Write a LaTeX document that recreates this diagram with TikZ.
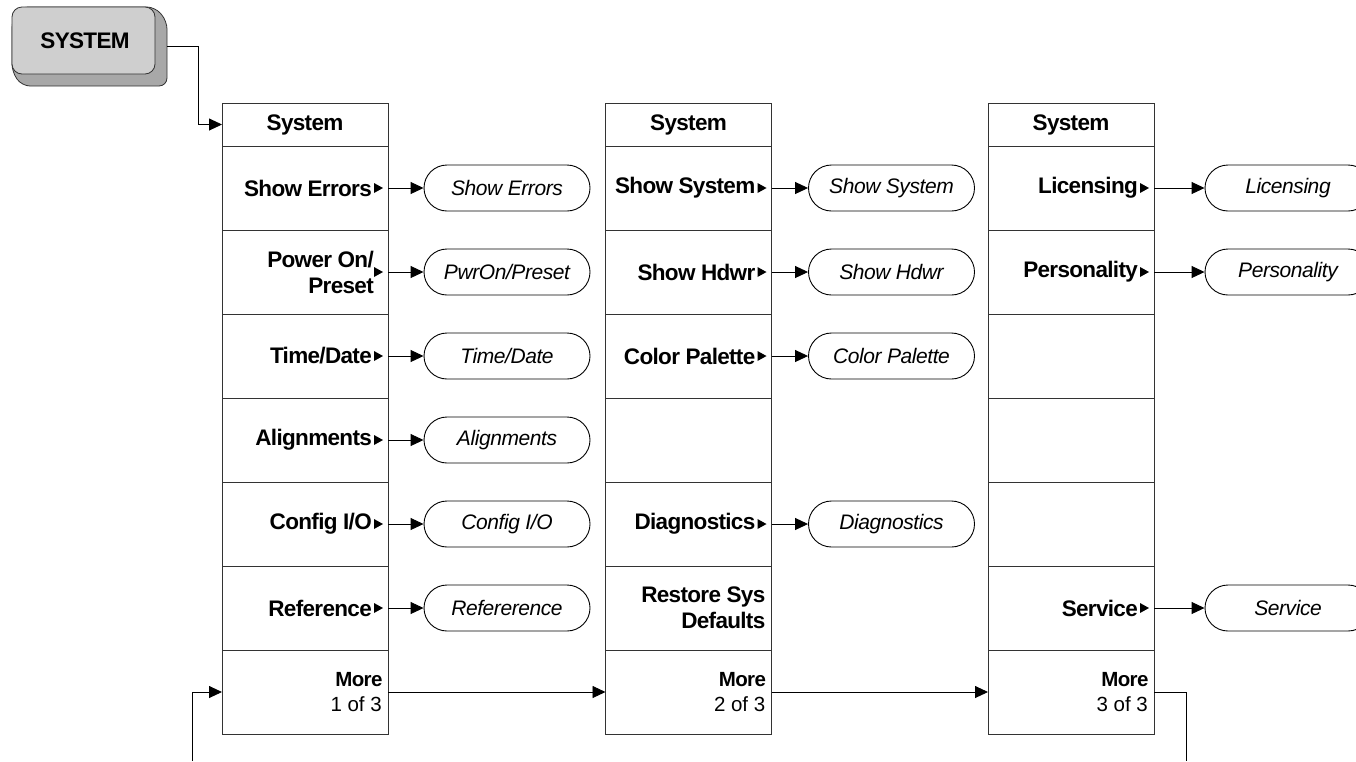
\documentclass[tikz,border=0pt]{standalone}
\usepackage{fontspec}
\setmainfont{Liberation Sans}
\usetikzlibrary{arrows.meta,calc}
\definecolor{keyface}{HTML}{CFCFCF}
\definecolor{keyside}{HTML}{A8A8A8}
\definecolor{edge}{HTML}{333333}
\newcommand\mytri[1]{\fill ($(#1.east)+(-14,-5)$) -- ++(9,5) -- ++(-9,5) -- cycle;}
\newcommand\boldfont{\fontsize{22.5}{26}\selectfont\bfseries\addfontfeature{LetterSpace=-3}}
\begin{document}
\begin{tikzpicture}[x=1pt,y=-1pt,
 cell/.style={draw=edge,line width=0.9pt,minimum width=166pt,minimum height=84pt,inner sep=0pt,outer sep=0pt},
 head/.style={cell,minimum height=43pt,font=\boldfont},
 lab/.style={anchor=east,align=right,inner sep=0pt,font=\boldfont},
 mlab/.style={anchor=east,align=right,inner sep=0pt,font=\fontsize{20.5}{25}\selectfont},
 oval/.style={draw,line width=0.9pt,rounded corners=23pt,minimum width=166pt,minimum height=46pt,inner sep=0pt,font=\fontsize{21}{24}\selectfont\itshape\addfontfeature{LetterSpace=-2}},
 arr/.style={line width=0.9pt,-{Triangle[length=13pt,width=12pt]}},
 conn/.style={line width=0.9pt}]
\useasboundingbox (0,0) rectangle (1356,761);
\clip (0,0) rectangle (1356,761);
% key
\node[minimum width=155pt,minimum height=79pt,inner sep=0pt] (key) at (89.5,46.5) {};
\filldraw[fill=keyside,draw=edge,line width=0.8pt,rounded corners=8pt]
  (20,7) -- (155,7) -- (167,21) -- (167,86) -- (22,86) -- (12,72) -- (12,20) -- cycle;
\filldraw[fill=keyface,draw=edge,line width=0.8pt,rounded corners=10pt] (12,7) rectangle (155,74);
\node[font=\boldfont] (keytext) at (85,40.5) {SYSTEM};
% column 1
\node[head] (a0) at (305,124.5) {System};
\node[cell] (a1) at (305,188) {};
\node[cell] (a2) at (305,272) {};
\node[cell] (a3) at (305,356) {};
\node[cell] (a4) at (305,440) {};
\node[cell] (a5) at (305,524) {};
\node[cell] (a6) at (305,608) {};
\node[cell] (a7) at (305,692) {};
% column 2
\node[head] (b0) at (688.5,124.5) {System};
\node[cell] (b1) at (688.5,188) {};
\node[cell] (b2) at (688.5,272) {};
\node[cell] (b3) at (688.5,356) {};
\node[cell] (b4) at (688.5,440) {};
\node[cell] (b5) at (688.5,524) {};
\node[cell] (b6) at (688.5,608) {};
\node[cell] (b7) at (688.5,692) {};
% column 3
\node[head] (c0) at (1071,124.5) {System};
\node[cell] (c1) at (1071,188) {};
\node[cell] (c2) at (1071,272) {};
\node[cell] (c3) at (1071,356) {};
\node[cell] (c4) at (1071,440) {};
\node[cell] (c5) at (1071,524) {};
\node[cell] (c6) at (1071,608) {};
\node[cell] (c7) at (1071,692) {};
% labels column 1
\node[lab] (la1) at ($(a1.east)+(-16,0)$) {Show Errors};
\node[lab] (la2) at ($(a2.east)+(-14,0)$) {Power On/\\Preset};
\node[lab] (la3) at ($(a3.east)+(-16,0)$) {Time/Date};
\node[lab] (la4) at ($(a4.east)+(-16,0)$) {Alignments};
\node[lab] (la5) at ($(a5.east)+(-16,0)$) {Config I/O};
\node[lab] (la6) at ($(a6.east)+(-16,0)$) {Reference};
\node[mlab] (la7) at ($(a7.east)+(-6,0)$) {\textbf{\addfontfeature{LetterSpace=-3}More}\\1 of 3};
% labels column 2
\node[lab] (lb1) at ($(b1.east)+(-16,0)$) {Show System};
\node[lab] (lb2) at ($(b2.east)+(-16,0)$) {Show Hdwr};
\node[lab] (lb3) at ($(b3.east)+(-16,0)$) {Color Palette};
\node[lab] (lb5) at ($(b5.east)+(-16,0)$) {Diagnostics};
\node[lab] (lb6) at ($(b6.east)+(-6,0)$) {Restore Sys\\Defaults};
\node[mlab] (lb7) at ($(b7.east)+(-6,0)$) {\textbf{\addfontfeature{LetterSpace=-3}More}\\2 of 3};
% labels column 3
\node[lab] (lc1) at ($(c1.east)+(-16,0)$) {Licensing};
\node[lab] (lc2) at ($(c2.east)+(-16,0)$) {Personality};
\node[lab] (lc6) at ($(c6.east)+(-16,0)$) {Service};
\node[mlab] (lc7) at ($(c7.east)+(-6,0)$) {\textbf{\addfontfeature{LetterSpace=-3}More}\\3 of 3};
% small markers
\mytri{a1}\mytri{a2}\mytri{a3}\mytri{a4}\mytri{a5}\mytri{a6}
\mytri{b1}\mytri{b2}\mytri{b3}\mytri{b5}
\mytri{c1}\mytri{c2}\mytri{c6}
% ovals
\node[oval] (oa1) at (507,188) {Show Errors};
\node[oval] (oa2) at (507,272) {PwrOn/Preset};
\node[oval] (oa3) at (507,356) {Time/Date};
\node[oval] (oa4) at (507,440) {Alignments};
\node[oval] (oa5) at (507,524) {Config I/O};
\node[oval] (oa6) at (507,608) {Refererence};
\node[oval] (ob1) at (891.5,188) {Show System};
\node[oval] (ob2) at (891.5,272) {Show Hdwr};
\node[oval] (ob3) at (891.5,356) {Color Palette};
\node[oval] (ob5) at (891.5,524) {Diagnostics};
\node[oval] (oc1) at (1288,188) {Licensing};
\node[oval] (oc2) at (1288,272) {Personality};
\node[oval] (oc6) at (1288,608) {Service};
% connectors to ovals
\foreach \r in {1,2,3,4,5,6} {\draw[arr] (a\r.east) -- (oa\r.west);}
\foreach \r in {1,2,3,5} {\draw[arr] (b\r.east) -- (ob\r.west);}
\foreach \r in {1,2,6} {\draw[arr] (c\r.east) -- (oc\r.west);}
% key to first menu
\coordinate (kbend) at (198,124.5);
\draw[arr] (key.east) -| (kbend) -- (a0.west);
% More chain
\draw[arr] (a7.east) -- (b7.west);
\draw[arr] (b7.east) -- (c7.west);
\coordinate (wrapin) at (192,761);
\coordinate (wrapout) at (1186,761);
\draw[conn] (c7.east) -| (wrapout);
\draw[arr] (wrapin) |- (a7.west);
\end{tikzpicture}
\end{document}
